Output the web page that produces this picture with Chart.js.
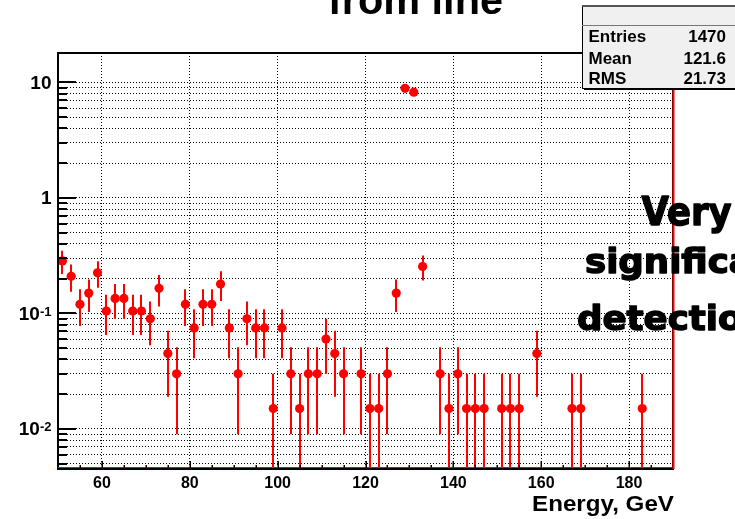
<!DOCTYPE html>
<html>
<head>
<meta charset="utf-8">
<style>
  html, body { margin: 0; padding: 0; background: #fff; overflow: hidden; }
  canvas { display: block; }
</style>
<script src="https://cdn.jsdelivr.net/npm/chart.js@4/dist/chart.umd.min.js"></script>
</head>
<body>
<canvas id="c" width="735" height="519"></canvas>
<script>
// Bin centres (GeV) of the filled bins, 2 GeV wide
const energy = [51, 53, 55, 57, 59, 61, 63, 65, 67, 69, 71, 73, 75, 77, 79, 81, 83, 85, 87, 89,
                91, 93, 95, 97, 99, 101, 103, 105, 107, 109, 111, 113, 115, 119, 121, 123, 125, 127,
                129, 131, 133, 137, 139, 141, 143, 145, 147, 151, 153, 155, 159, 167, 169, 183];
// Bin contents
const flux = [0.285, 0.21, 0.12, 0.15, 0.225, 0.105, 0.135, 0.135, 0.105, 0.105, 0.09, 0.165, 0.045, 0.03,
              0.12, 0.075, 0.12, 0.12, 0.18, 0.075, 0.03, 0.09, 0.075, 0.075, 0.015, 0.075, 0.03, 0.015,
              0.03, 0.03, 0.06, 0.045, 0.03, 0.03, 0.015, 0.015, 0.03, 0.15, 8.9, 8.25, 0.255,
              0.03, 0.015, 0.03, 0.015, 0.015, 0.015, 0.015, 0.015, 0.015, 0.045, 0.015, 0.015, 0.015];
// Bin errors
const fluxErr = [0.065, 0.056, 0.042, 0.047, 0.058, 0.040, 0.045, 0.045, 0.040, 0.040, 0.037, 0.050, 0.026, 0.021,
                 0.042, 0.034, 0.042, 0.042, 0.052, 0.034, 0.021, 0.037, 0.034, 0.034, 0.015, 0.034, 0.021, 0.015,
                 0.021, 0.021, 0.030, 0.026, 0.021, 0.021, 0.015, 0.015, 0.021, 0.047, 0.37, 0.35, 0.062,
                 0.021, 0.015, 0.021, 0.015, 0.015, 0.015, 0.015, 0.015, 0.015, 0.026, 0.015, 0.015, 0.015];

const xTickValues = [60, 80, 100, 120, 140, 160, 180];
const yDecadeValues = [0.01, 0.1, 1, 10];
const yDecadeLabels = [['10', '-2'], ['10', '-1'], ['1', ''], ['10', '']];
const statsRows = [['Entries', '1470'], ['Mean', '121.6'], ['RMS', '21.73']];
const titleText = 'from line';
const xAxisTitle = 'Energy, GeV';
const noteLines = ['Very', 'significant', 'detection'];

const X_MIN = 50, X_MAX = 190, Y_MIN = 0.0045, Y_MAX = 18;
const HELV = '"Liberation Sans", Arial, Helvetica, sans-serif';
const NOTE_FONT = '"DejaVu Sans", "Open Sans", sans-serif';

// log-axis positions: 1..9 x 10^k inside the range
const yGridValues = [];
for (let k = -3; k <= 1; k++) {
  for (let m = 1; m <= 9; m++) {
    const v = m * Math.pow(10, k);
    if (v >= Y_MIN && v <= Y_MAX) yGridValues.push(+v.toPrecision(3));
  }
}
// minor x ticks every 5 GeV
const xMinorValues = [];
for (let v = 55; v < X_MAX; v += 5) xMinorValues.push(v);

const points = energy.map((e, i) => ({ x: e, y: flux[i] }));

// draw text squeezed/stretched horizontally to a given width
function fitText(ctx, text, x, y, width, font, align) {
  ctx.save();
  ctx.font = font;
  ctx.textAlign = 'left';
  ctx.textBaseline = 'alphabetic';
  const w = ctx.measureText(text).width;
  const x0 = align === 'center' ? x - width / 2 : align === 'right' ? x - width : x;
  ctx.translate(x0, y);
  ctx.scale(width / w, 1);
  ctx.fillText(text, 0, 0);
  ctx.restore();
}
// heavy text with an extra outline stroke
function heavyText(ctx, text, x, y, font, sx) {
  ctx.save();
  ctx.font = font;
  ctx.textAlign = 'left';
  ctx.textBaseline = 'alphabetic';
  ctx.translate(x, y);
  ctx.scale(sx, 1);
  ctx.lineJoin = 'round';
  ctx.lineWidth = 1.4;
  ctx.strokeStyle = '#000';
  ctx.strokeText(text, 0, 0);
  ctx.fillText(text, 0, 0);
  ctx.restore();
}

const errorBars = {
  id: 'errorBars',
  beforeDatasetsDraw(chart) {
    const { ctx, chartArea: a, scales: { x, y } } = chart;
    ctx.save();
    ctx.beginPath();
    ctx.rect(a.left, a.top, a.right - a.left, a.bottom - a.top);
    ctx.clip();
    ctx.strokeStyle = '#ff0000';
    ctx.lineWidth = 2;
    energy.forEach((e, i) => {
      const px = Math.round(x.getPixelForValue(e));
      const hi = flux[i] + fluxErr[i];
      const lo = flux[i] - fluxErr[i];
      const yTop = y.getPixelForValue(hi);
      const yBot = lo > 1e-9 ? y.getPixelForValue(lo) : a.bottom + 2;
      ctx.beginPath();
      ctx.moveTo(px, yTop);
      ctx.lineTo(px, yBot);
      ctx.stroke();
    });
    ctx.restore();
  }
};

const decorations = {
  id: 'decorations',
  afterDraw(chart) {
    const { ctx, chartArea: a, scales: { x, y } } = chart;
    ctx.save();

    // frame
    ctx.fillStyle = '#000';
    ctx.fillRect(a.left - 1, a.top - 1, 2, a.bottom - a.top + 2);      // left
    ctx.fillRect(a.left - 1, a.top - 1, a.right - a.left + 2, 2);      // top
    ctx.fillRect(a.left - 1, a.bottom - 1, a.right - a.left + 2, 2);   // bottom
    ctx.fillStyle = '#ff0000';
    ctx.fillRect(a.left, a.bottom - 2, a.right - a.left, 1);
    ctx.fillStyle = '#8a0000';
    ctx.fillRect(a.right - 1, a.top - 1, 1, a.bottom - a.top + 1);
    ctx.fillStyle = '#ff0000';
    ctx.fillRect(a.right, a.top - 1, 1.5, a.bottom - a.top + 1);

    // x tick marks
    ctx.fillStyle = '#000';
    xMinorValues.forEach(v => {
      const px = Math.round(x.getPixelForValue(v));
      const len = xTickValues.includes(v) ? 8 : 4;
      ctx.fillRect(px - 0.5, a.bottom - len, 1.5, len);
    });
    // y tick marks
    yGridValues.forEach(v => {
      const py = Math.round(y.getPixelForValue(v));
      const major = yDecadeValues.some(d => Math.abs(d - v) < 1e-9);
      ctx.fillRect(a.left, py - 1, major ? 18 : 9, 2);
    });

    // y labels with exponents
    ctx.fillStyle = '#000';
    ctx.textBaseline = 'alphabetic';
    ctx.textAlign = 'left';
    const baseFont = 'bold 19px ' + HELV, supFont = 'bold 13px ' + HELV;
    yDecadeValues.forEach((v, i) => {
      const py = y.getPixelForValue(v);
      const [base, sup] = yDecadeLabels[i];
      ctx.font = baseFont;
      const wb = ctx.measureText(base).width;
      ctx.font = supFont;
      const ws = sup ? ctx.measureText(sup).width : 0;
      const right = 51.5;
      const x0 = right - wb - ws;
      ctx.font = baseFont;
      ctx.fillText(base, x0, py + 6.5);
      if (sup) {
        ctx.font = supFont;
        ctx.fillText(sup, x0 + wb, py + 2.5);
      }
    });

    // axis title
    fitText(ctx, xAxisTitle, 674, 511, 142, 'bold 22px ' + HELV, 'right');

    // histogram title
    fitText(ctx, titleText, 415.5, 14, 175, 'bold 40px ' + HELV, 'center');

    // statistics box
    const bx = 582, by = 6, bw = 170, bh = 82;
    ctx.fillStyle = '#000';
    ctx.fillRect(bx + 2, by + bh - 1, bw, 3);
    ctx.fillStyle = '#f0f0f0';
    ctx.fillRect(bx, by, bw, bh);
    ctx.strokeStyle = '#000';
    ctx.lineWidth = 1;
    ctx.strokeRect(bx + 0.5, by + 0.5, bw, bh);
    ctx.fillStyle = '#555';
    ctx.fillRect(bx, by - 1, bw, 2);
    ctx.fillStyle = '#777';
    ctx.fillRect(bx, 25, bw, 1);
    ctx.fillStyle = '#000';
    ctx.font = 'bold 17px ' + HELV;
    const baselines = [41.7, 63.5, 84];
    statsRows.forEach(([k, v], i) => {
      ctx.textAlign = 'left';
      ctx.fillText(k, 588.5, baselines[i]);
      ctx.textAlign = 'right';
      ctx.fillText(v, 726, baselines[i]);
    });

    // annotation
    ctx.fillStyle = '#000';
    const f1 = 'bold 39px ' + NOTE_FONT, f2 = 'bold 33px ' + NOTE_FONT;
    ctx.font = f1;
    const sx1 = 90 / ctx.measureText('Very').width;
    ctx.font = f2;
    const sx2 = 141 / ctx.measureText('detecti').width;
    heavyText(ctx, noteLines[0], 641.5, 225, f1, sx1);
    heavyText(ctx, noteLines[1], 585, 273, f2, sx2);
    heavyText(ctx, noteLines[2], 577, 330, f2, sx2);

    ctx.restore();
  }
};

new Chart(document.getElementById('c'), {
  type: 'scatter',
  data: {
    datasets: [{
      data: points,
      backgroundColor: '#ff0000',
      borderColor: '#ff0000',
      borderWidth: 0,
      pointRadius: 4.6,
      pointHoverRadius: 4.6
    }]
  },
  options: {
    responsive: false,
    devicePixelRatio: 1,
    animation: false,
    events: [],
    layout: { padding: { top: 53, right: 62, left: 0, bottom: 0 } },
    plugins: { legend: { display: false }, tooltip: { enabled: false }, title: { display: false } },
    scales: {
      x: {
        type: 'linear',
        min: X_MIN,
        max: X_MAX,
        afterBuildTicks(scale) { scale.ticks = xTickValues.map(v => ({ value: v })); },
        afterFit(scale) { scale.height = 50; },
        ticks: {
          autoSkip: false,
          maxRotation: 0,
          padding: 5,
          color: '#000',
          font: { family: HELV, size: 16, weight: 'bold' }
        },
        grid: { color: '#000', lineWidth: 1, drawTicks: false },
        border: { display: false, dash: [1, 2] }
      },
      y: {
        type: 'logarithmic',
        min: Y_MIN,
        max: Y_MAX,
        afterBuildTicks(scale) { scale.ticks = yGridValues.map(v => ({ value: v })); },
        afterFit(scale) { scale.width = 58; },
        ticks: { display: false },
        grid: { color: '#000', lineWidth: 1, drawTicks: false },
        border: { display: false, dash: [1, 2] }
      }
    }
  },
  plugins: [errorBars, decorations]
});
</script>
</body>
</html>
